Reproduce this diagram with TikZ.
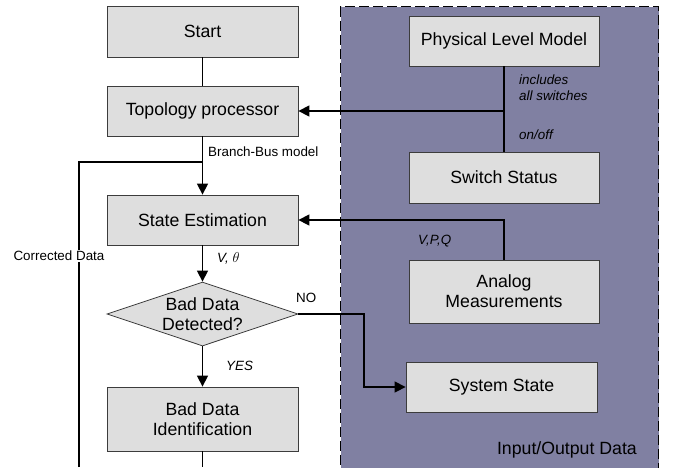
\documentclass[tikz,border=0pt]{standalone}
\usepackage{fontspec}
\setmainfont{Liberation Sans}
\usetikzlibrary{arrows.meta,shapes.geometric}
\definecolor{boxfill}{RGB}{222,222,222}
\definecolor{iobg}{RGB}{128,128,162}
\definecolor{boxline}{RGB}{60,60,60}
\begin{document}
\begin{tikzpicture}[x=1pt,y=-1pt,
  proc/.style={draw=boxline, line width=0.8pt, fill=boxfill, minimum width=191pt,
    minimum height=50pt, inner sep=0pt, align=center,
    font=\fontsize{17.7}{20}\selectfont},
  dec/.style={proc, shape=diamond, aspect=3, minimum height=64pt},
  lbl/.style={font=\fontsize{13.4}{16}\selectfont, inner sep=0pt},
  ilbl/.style={font=\fontsize{13.4}{16}\selectfont\itshape, inner sep=0pt},
  conn/.style={line width=1.4pt, black},
  arr/.style={conn, -{Triangle[length=11pt,width=11pt]}},
  iobox/.style={draw=black, fill=iobg, line width=1.2pt, dash pattern=on 10pt off 4pt,
    minimum width=318pt, minimum height=484pt, inner sep=0pt, anchor=north west}
]
\useasboundingbox (0,0) rectangle (673,467);
\node[iobox] (io) at (340,6) {};
\node[anchor=east, inner sep=0pt, font=\fontsize{17.7}{20}\selectfont] (iolbl) at (637,450) {Input/Output Data};

\node[proc, minimum height=51pt] (start) at (202.5,31.5) {Start};
\node[proc] (topo) at (202.5,111) {Topology processor};
\node[proc] (se) at (202.5,220) {State Estimation};
\node[dec] (bdd) at (202.5,314) {Bad Data\\Detected?};
\node[proc, minimum height=64pt] (bdi) at (202.5,419) {Bad Data\\Identification};
\node[proc, minimum width=190pt] (plm) at (504,41) {Physical Level Model};
\node[proc, minimum width=190pt, minimum height=51pt] (ss) at (504,177.5) {Switch Status};
\node[proc, minimum width=190pt, minimum height=63pt] (am) at (504,291.5) {Analog\\Measurements};
\node[proc] (sys) at (501.5,387) {System State};

\coordinate (j1) at (504,111);
\coordinate (fbtop) at (202.5,162);
\coordinate (nocorner) at (364,314);
\coordinate (bdibot) at (202.5,467);
\coordinate (fbbot) at (79,467);

\draw[conn] (start) -- (topo);
\draw[conn] (plm) -- (ss);
\draw[arr] (j1) -- (topo.east);
\draw[arr] (topo) -- (se);
\draw[arr] (am.north) |- (se.east);
\draw[arr] (se) -- (bdd);
\draw[arr] (bdd) -- (bdi);
\draw[arr] (bdd.east) -- (nocorner) |- (sys.west);
\draw[conn] (bdi.south) -- (bdibot);
\draw[conn] (fbbot) -- (fbbot |- fbtop) -- (fbtop);

\node[lbl, fill=white, inner sep=1pt] (cd) at (59,256) {Corrected Data};
\node[lbl, anchor=west] (bb) at (208,152) {Branch-Bus model};
\node[ilbl, anchor=west, align=left] (incl) at (519,88) {includes\\all switches};
\node[ilbl, anchor=west] (onoff) at (519,135) {on/off};
\node[ilbl, anchor=west] (vpq) at (418,241) {V,P,Q};
\node[ilbl, anchor=west] (vth) at (217,258) {V, $\theta$};
\node[ilbl, anchor=west] (yes) at (226,366) {YES};
\node[lbl, anchor=west] (no) at (296,298) {NO};
\end{tikzpicture}
\end{document}
